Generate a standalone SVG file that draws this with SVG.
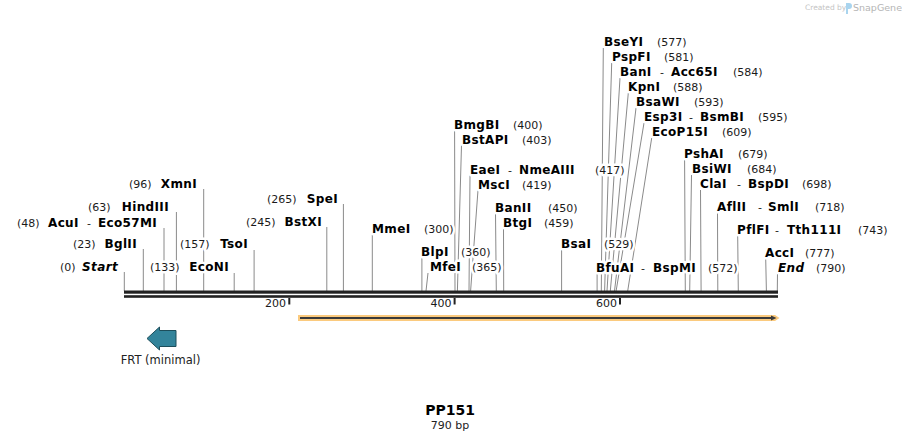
<svg xmlns="http://www.w3.org/2000/svg" width="902" height="441" viewBox="0 0 902 441">
<style>
text{font-family:"DejaVu Sans","Liberation Sans",sans-serif;stroke:#fff;stroke-width:5;stroke-linejoin:round;paint-order:stroke}
.n{font-size:12px;font-weight:bold;fill:#000;letter-spacing:0.35px}
.bi{font-size:12px;font-weight:bold;font-style:italic;fill:#000;letter-spacing:0.35px}
.p{font-size:11px;fill:#1a1a1a}
.e{text-anchor:end}
.tk{font-size:11px;fill:#1a1a1a;text-anchor:end;stroke:none}
#connectors line{stroke:#8a8a8a;stroke-width:1}
</style>
<rect width="902" height="441" fill="#fff"/>

<g id="watermark">
<text x="805" y="10" style="font-size:7.5px;fill:#c4c4c4;stroke:none">Created by</text>
<path d="M846,3 h3 a3,3 0 0 1 0,6 h-1 v5 h-2 z" fill="#a9d4ee"/>
<text x="853" y="11" style="font-size:9.5px;fill:#b5b5b5;stroke:none">SnapGene</text>
</g>

<g id="connectors">
<line x1="124.3" y1="272" x2="124.3" y2="291"/>
<line x1="143.3" y1="249" x2="143.3" y2="291"/>
<line x1="164" y1="228" x2="164" y2="291"/>
<line x1="176.4" y1="212" x2="176.4" y2="291"/>
<line x1="203.7" y1="189" x2="203.7" y2="291"/>
<line x1="234.2" y1="273" x2="234.2" y2="291"/>
<line x1="254.1" y1="250" x2="254.1" y2="291"/>
<line x1="326.8" y1="227" x2="326.8" y2="291"/>
<line x1="343.4" y1="204" x2="343.4" y2="291"/>
<line x1="372.3" y1="235" x2="372.3" y2="291"/>
<line x1="421.9" y1="258" x2="421.9" y2="291"/>
<line x1="428" y1="273" x2="426" y2="291"/>
<line x1="454.6" y1="130" x2="455" y2="291"/>
<line x1="461.5" y1="145" x2="457.4" y2="291"/>
<line x1="470" y1="175" x2="469" y2="291"/>
<line x1="478" y1="190" x2="470.6" y2="291"/>
<line x1="495.5" y1="213" x2="496.3" y2="291"/>
<line x1="503.5" y1="228" x2="503.7" y2="291"/>
<line x1="561.6" y1="249" x2="561.6" y2="291"/>
<line x1="597.1" y1="273" x2="597.1" y2="291"/>
<line x1="603.3" y1="48" x2="601.3" y2="291"/>
<line x1="611.7" y1="63" x2="604.6" y2="291"/>
<line x1="620" y1="78" x2="607" y2="291"/>
<line x1="628.3" y1="93" x2="610.3" y2="291"/>
<line x1="636" y1="108" x2="614.5" y2="291"/>
<line x1="644" y1="123" x2="616.1" y2="291"/>
<line x1="651.7" y1="138" x2="627.7" y2="291"/>
<line x1="684.6" y1="160" x2="685.3" y2="291"/>
<line x1="691.5" y1="175" x2="689.7" y2="291"/>
<line x1="700.5" y1="190" x2="701.1" y2="291"/>
<line x1="717.5" y1="213" x2="717.8" y2="291"/>
<line x1="737.7" y1="236" x2="738.3" y2="291"/>
<line x1="765.7" y1="258" x2="766.4" y2="291"/>
<line x1="777.5" y1="273" x2="777.3" y2="291"/>
</g>

<g id="ruler">
<rect x="124" y="290.5" width="654" height="3.2" fill="#222"/>
<rect x="124" y="295.2" width="654" height="2.6" fill="#222"/>
<rect x="288.3" y="298" width="2" height="6.5" fill="#222"/>
<rect x="453.6" y="298" width="2" height="6.5" fill="#222"/>
<rect x="619" y="298" width="2" height="6.5" fill="#222"/>
<text class="tk" x="286" y="307">200</text>
<text class="tk" x="451.5" y="307">400</text>
<text class="tk" x="617" y="307">600</text>
</g>

<g id="orf">
<path d="M298,315 H775 L779.5,318 L775,321 H298 Z" fill="#fbca7e"/>
<line x1="300" y1="318" x2="772" y2="318" stroke="#3a3a3a" stroke-width="2"/>
<path d="M771,315.6 L776.5,318 L771,320.4 Z" fill="#3a3a3a"/>
</g>

<g id="FRT">
<path d="M147,338.5 L159.5,327 V330.5 H176 V346.5 H159.5 V350 Z" fill="#33849b" stroke="#1d4e5b" stroke-width="1"/>
<text x="160.5" y="364" style="font-size:11.5px;fill:#222;text-anchor:middle;stroke:none">FRT (minimal)</text>
</g>

<g id="title">
<text x="450" y="415" style="font-size:14px;font-weight:bold;fill:#000;text-anchor:middle;stroke:none">PP151</text>
<text x="450" y="429" style="font-size:11px;fill:#222;text-anchor:middle;stroke:none">790 bp</text>
</g>

<g id="site-Start"><text class="p" x="60" y="271">(0)</text><text class="bi e" x="118" y="271">Start</text></g>
<g id="site-BglII"><text class="p" x="73" y="248">(23)</text><text class="n e" x="137" y="248">BglII</text></g>
<g id="site-AcuI"><text class="p" x="17" y="226.5">(48)</text><text class="n" x="48" y="226.5">AcuI</text><text class="p" x="87" y="226.5">-</text><text class="n e" x="157" y="226.5">Eco57MI</text></g>
<g id="site-HindIII"><text class="p" x="88" y="211">(63)</text><text class="n e" x="169" y="211">HindIII</text></g>
<g id="site-XmnI"><text class="p" x="129" y="188">(96)</text><text class="n e" x="197" y="188">XmnI</text></g>
<g id="site-EcoNI"><text class="p" x="150" y="271">(133)</text><text class="n e" x="229" y="271">EcoNI</text></g>
<g id="site-TsoI"><text class="p" x="180" y="248">(157)</text><text class="n e" x="248" y="248">TsoI</text></g>
<g id="site-SpeI"><text class="p" x="267" y="202.5">(265)</text><text class="n e" x="338" y="202.5">SpeI</text></g>
<g id="site-BstXI"><text class="p" x="246" y="225.5">(245)</text><text class="n e" x="322" y="225.5">BstXI</text></g>
<g id="site-MmeI"><text class="n" x="372" y="233">MmeI</text><text class="p" x="424" y="233">(300)</text></g>
<g id="site-BlpI"><text class="n" x="421" y="256">BlpI</text><text class="p" x="461" y="256">(360)</text></g>
<g id="site-MfeI"><text class="n" x="430" y="271">MfeI</text><text class="p" x="472" y="271">(365)</text></g>
<g id="site-BmgBI"><text class="n" x="454" y="129">BmgBI</text><text class="p" x="513" y="129">(400)</text></g>
<g id="site-BstAPI"><text class="n" x="462" y="144">BstAPI</text><text class="p" x="522" y="144">(403)</text></g>
<g id="site-EaeI"><text class="n" x="470" y="173.5">EaeI</text><text class="p" x="508" y="173.5">-</text><text class="n" x="519" y="173.5">NmeAIII</text><text class="p" x="595" y="173.5">(417)</text></g>
<g id="site-MscI"><text class="n" x="478" y="188.5">MscI</text><text class="p" x="522" y="188.5">(419)</text></g>
<g id="site-BanII"><text class="n" x="495" y="211.5">BanII</text><text class="p" x="548" y="211.5">(450)</text></g>
<g id="site-BtgI"><text class="n" x="503" y="226.5">BtgI</text><text class="p" x="544" y="226.5">(459)</text></g>
<g id="site-BsaI"><text class="n" x="561" y="247.5">BsaI</text><text class="p" x="604" y="247.5">(529)</text></g>
<g id="site-BfuAI"><text class="n" x="596" y="271.5">BfuAI</text><text class="p" x="641" y="271.5">-</text><text class="n" x="653" y="271.5">BspMI</text><text class="p" x="708" y="271.5">(572)</text></g>
<g id="site-BseYI"><text class="n" x="604" y="46">BseYI</text><text class="p" x="657" y="46">(577)</text></g>
<g id="site-PspFI"><text class="n" x="612" y="61">PspFI</text><text class="p" x="664" y="61">(581)</text></g>
<g id="site-BanI"><text class="n" x="620" y="76">BanI</text><text class="p" x="660" y="76">-</text><text class="n" x="671" y="76">Acc65I</text><text class="p" x="733" y="76">(584)</text></g>
<g id="site-KpnI"><text class="n" x="628" y="91">KpnI</text><text class="p" x="673" y="91">(588)</text></g>
<g id="site-BsaWI"><text class="n" x="636" y="106">BsaWI</text><text class="p" x="694" y="106">(593)</text></g>
<g id="site-Esp3I"><text class="n" x="644" y="121">Esp3I</text><text class="p" x="689" y="121">-</text><text class="n" x="700" y="121">BsmBI</text><text class="p" x="758" y="121">(595)</text></g>
<g id="site-EcoP15I"><text class="n" x="652" y="136">EcoP15I</text><text class="p" x="722" y="136">(609)</text></g>
<g id="site-PshAI"><text class="n" x="684" y="158">PshAI</text><text class="p" x="738" y="158">(679)</text></g>
<g id="site-BsiWI"><text class="n" x="692" y="173">BsiWI</text><text class="p" x="747" y="173">(684)</text></g>
<g id="site-ClaI"><text class="n" x="700" y="188">ClaI</text><text class="p" x="737" y="188">-</text><text class="n" x="748" y="188">BspDI</text><text class="p" x="802" y="188">(698)</text></g>
<g id="site-AflII"><text class="n" x="717" y="211">AflII</text><text class="p" x="758" y="211">-</text><text class="n" x="768" y="211">SmlI</text><text class="p" x="815" y="211">(718)</text></g>
<g id="site-PflFI"><text class="n" x="737" y="233.5">PflFI</text><text class="p" x="775" y="233.5">-</text><text class="n" x="787" y="233.5">Tth111I</text><text class="p" x="858" y="233.5">(743)</text></g>
<g id="site-AccI"><text class="n" x="765" y="256.5">AccI</text><text class="p" x="805" y="256.5">(777)</text></g>
<g id="site-End"><text class="bi" x="778" y="271.5">End</text><text class="p" x="816" y="271.5">(790)</text></g>
</svg>
